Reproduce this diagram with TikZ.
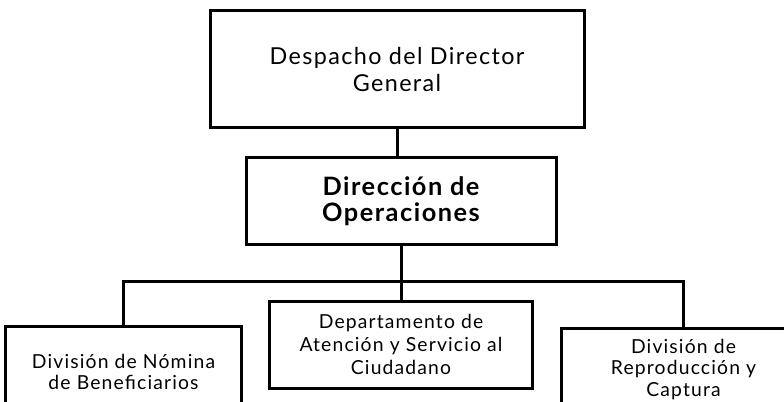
\documentclass[tikz,border=0pt]{standalone}
\usepackage{fontspec}
\setmainfont{Lato}[LetterSpace=6]
\usetikzlibrary{positioning}

\begin{document}
\begin{tikzpicture}[x=0.75pt, y=-0.75pt,
         office/.style = {draw, line width=2.25pt, align=center, inner sep=2pt},
         bigtext/.style = {font=\fontsize{17.5}{20}\selectfont},
         boldtext/.style = {font=\fontsize{19}{19.5}\selectfont\bfseries},
         smalltext/.style = {font=\fontsize{14.5}{16}\selectfont},
         link/.style = {line width=2.25pt}
]
         \clip (0,0) rectangle (784,402);

         % head offices
         \node[office, bigtext, minimum width=280.5pt, minimum height=87.75pt]
            at (397,69.5) (dg) {Despacho del Director\\General};
         \node[office, boldtext, minimum width=232.5pt, minimum height=65.25pt,
            below=20.25pt of dg, xshift=3pt] (dop)
            {Dirección de\\Operaciones};

         % units
         \node[office, smalltext, font=\fontsize{14.5}{17.5}\selectfont,
            minimum width=197.25pt, minimum height=65.25pt,
            below=39.75pt of dop] (dasc)
            {Departamento de\\Atención y Servicio al\\Ciudadano};
         \node[office, smalltext, minimum width=177pt, minimum height=69pt,
            below left=18.75pt and 18.75pt of dasc.north west] (nom)
            {División de Nómina\\de Beneficiarios};
         \node[office, smalltext, minimum width=183pt, minimum height=62pt,
            below right=20.25pt and 19.5pt of dasc.north east] (rep)
            {División de\\Reproducción y\\Captura};

         \coordinate[below=26.25pt of dop.south] (bar);

         \draw[link] (dg.south) -- (dg.south |- dop.north);
         \draw[link] (dop.south) -- (dasc.north);
         \draw[link] (nom.north) |- (bar) -| (rep.north);
\end{tikzpicture}
\end{document}
